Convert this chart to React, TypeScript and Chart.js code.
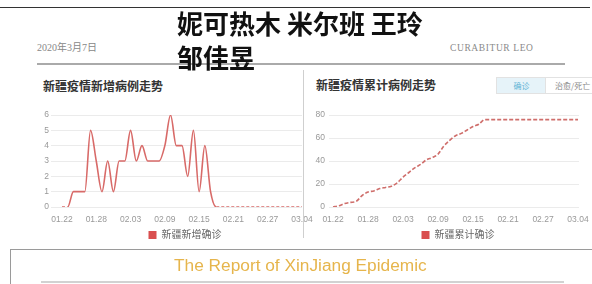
import React, { useEffect, useRef } from 'react';
import { Chart, registerables } from 'chart.js';

Chart.register(...registerables);

const X_LABELS = [
  '01.22', '01.23', '01.24', '01.25', '01.26', '01.27', '01.28', '01.29', '01.30', '01.31',
  '02.01', '02.02', '02.03', '02.04', '02.05', '02.06', '02.07', '02.08', '02.09', '02.10',
  '02.11', '02.12', '02.13', '02.14', '02.15', '02.16', '02.17', '02.18', '02.19', '02.20',
  '02.21', '02.22', '02.23', '02.24', '02.25', '02.26', '02.27', '02.28', '02.29', '03.01',
  '03.02', '03.03', '03.04',
];

const NEW_CASES = [
  0, 0, 1, 1, 1, 5, 3, 1, 3, 1,
  3, 3, 5, 3, 4, 3, 3, 3, 4, 6,
  4, 4, 2, 5, 1, 4, 1, 0, 0, 0,
  0, 0, 0, 0, 0, 0, 0, 0, 0, 0,
  0, 0, 0,
];

const TOTAL_CASES = [
  0, 1, 3, 4, 5, 10, 13, 14, 16, 17,
  18, 21, 26, 30, 34, 37, 41, 43, 46, 53,
  58, 62, 64, 67, 70, 72, 76, 76, 76, 76,
  76, 76, 76, 76, 76, 76, 76, 76, 76, 76,
  76, 76, 76,
];

const NEW_LABEL = '新疆新增确诊';
const TOTAL_LABEL = '新疆累计确诊';
const NEW_Y_MAX = 6;
const NEW_Y_STEP = 1;
const TOTAL_Y_MAX = 80;
const TOTAL_Y_STEP = 20;
const X_STEP = 6;

const LEGEND_COLOR = '#d94f4f';
const FONT_FAMILY = '"Liberation Sans", "Noto Sans CJK SC", sans-serif';

type Opts = {
  values: number[];
  label: string;
  yMax: number;
  yStep: number;
  xMin: number;
  xMax: number;
  yWidth: number;
  yPad: number;
  rightWidth: number;
  color: string;
  dashAll: boolean;
};

function makeConfig(o: Opts): any {
  return {
    type: 'line',
    data: {
      datasets: [
        {
          label: o.label,
          data: o.values.map((v, i) => ({ x: i, y: v })),
          borderColor: o.color,
          backgroundColor: LEGEND_COLOR,
          borderWidth: 1.6,
          pointRadius: 0,
          pointHoverRadius: 0,
          fill: false,
          cubicInterpolationMode: 'monotone',
          borderDash: o.dashAll ? [4, 2] : [],
          segment: o.dashAll
            ? undefined
            : {
                borderDash: (ctx: any) =>
                  ctx.p0.parsed.y === 0 && ctx.p1.parsed.y === 0 ? [3, 2] : undefined,
              },
        },
      ],
    },
    options: {
      animation: false,
      responsive: false,
      maintainAspectRatio: false,
      events: [],
      layout: { padding: { top: 15, left: 0, right: 0, bottom: 0 } },
      plugins: {
        tooltip: { enabled: false },
        title: { display: false },
        legend: {
          display: true,
          position: 'bottom',
          labels: {
            boxWidth: 8,
            boxHeight: 8,
            padding: 5,
            color: '#666',
            font: { size: 10, family: FONT_FAMILY },
            generateLabels: (chart: any) =>
              Chart.defaults.plugins.legend.labels
                .generateLabels(chart)
                .map((l: any) => ({
                  ...l,
                  fillStyle: LEGEND_COLOR,
                  strokeStyle: LEGEND_COLOR,
                  lineWidth: 0,
                  lineDash: [],
                })),
          },
        },
      },
      scales: {
        x: {
          type: 'linear',
          min: o.xMin,
          max: o.xMax,
          grid: { display: false, drawTicks: false },
          border: { display: false },
          ticks: {
            stepSize: X_STEP,
            includeBounds: false,
            autoSkip: false,
            maxRotation: 0,
            padding: 8,
            color: '#999',
            font: { size: 8.5, family: FONT_FAMILY },
            callback: (v: any) => X_LABELS[v] ?? '',
          },
          afterFit: (s: any) => {
            s.height = 18;
          },
        },
        y: {
          min: 0,
          max: o.yMax,
          grid: { color: '#ebebeb', drawTicks: false, lineWidth: 1 },
          border: { display: false },
          ticks: {
            stepSize: o.yStep,
            padding: o.yPad,
            color: '#999',
            font: { size: 8.5, family: FONT_FAMILY },
          },
          afterFit: (s: any) => {
            s.width = o.yWidth;
          },
        },
        y2: {
          position: 'right',
          display: true,
          grid: { display: false, drawTicks: false },
          border: { display: false },
          ticks: { display: false },
          afterFit: (s: any) => {
            s.width = o.rightWidth;
          },
        },
      },
    },
  };
}

const abs = (s: React.CSSProperties): React.CSSProperties => ({ position: 'absolute', ...s });

export default function App() {
  const leftRef = useRef<HTMLCanvasElement | null>(null);
  const rightRef = useRef<HTMLCanvasElement | null>(null);

  useEffect(() => {
    document.body.style.margin = '0';
    const left = new Chart(
      leftRef.current as HTMLCanvasElement,
      makeConfig({
        values: NEW_CASES,
        label: NEW_LABEL,
        yMax: NEW_Y_MAX,
        yStep: NEW_Y_STEP,
        xMin: -1.92,
        xMax: 42,
        yWidth: 21,
        yPad: 2,
        rightWidth: 38,
        color: '#d86a68',
        dashAll: false,
      })
    );
    const right = new Chart(
      rightRef.current as HTMLCanvasElement,
      makeConfig({
        values: TOTAL_CASES,
        label: TOTAL_LABEL,
        yMax: TOTAL_Y_MAX,
        yStep: TOTAL_Y_STEP,
        xMin: -0.69,
        xMax: 42.17,
        yWidth: 24,
        yPad: 4,
        rightWidth: 32,
        color: '#cf6e6b',
        dashAll: true,
      })
    );
    return () => {
      left.destroy();
      right.destroy();
    };
  }, []);

  return (
    <div
      style={{
        position: 'fixed',
        left: 0,
        top: 0,
        width: 592,
        height: 284,
        overflow: 'hidden',
        background: '#fff',
        fontFamily: '"Noto Sans CJK SC", "Liberation Sans", sans-serif',
      }}
    >
      <div style={abs({ left: 0, top: 7, width: 590, height: 1, background: '#333' })} />
      <div
        style={abs({
          left: 37,
          top: 42,
          fontFamily: '"Liberation Serif", "Noto Sans CJK SC", serif',
          fontSize: 10,
          lineHeight: '12px',
          color: '#888',
          whiteSpace: 'nowrap',
        })}
      >
        2020年3月7日
      </div>
      <div
        style={abs({
          left: 450,
          top: 42,
          fontFamily: '"Liberation Serif", serif',
          fontSize: 9.5,
          letterSpacing: 0.6,
          lineHeight: '12px',
          color: '#8a8a8a',
          whiteSpace: 'nowrap',
        })}
      >
        CURABITUR LEO
      </div>
      <div style={abs({ left: 37, top: 63, width: 528, height: 2, background: '#aaa' })} />
      <div
        style={abs({
          left: 177,
          top: 6,
          fontSize: 26,
          fontWeight: 700,
          lineHeight: '34px',
          color: '#111',
          whiteSpace: 'nowrap',
          zIndex: 3,
        })}
      >
        妮可热木 米尔班 王玲
        <br />
        邹佳昱
      </div>

      <div
        style={abs({
          left: 43,
          top: 80,
          fontSize: 12,
          fontWeight: 700,
          lineHeight: '12px',
          color: '#333',
          whiteSpace: 'nowrap',
        })}
      >
        新疆疫情新增病例走势
      </div>
      <div
        style={abs({
          left: 316,
          top: 79,
          fontSize: 12,
          fontWeight: 700,
          lineHeight: '12px',
          color: '#333',
          whiteSpace: 'nowrap',
        })}
      >
        新疆疫情累计病例走势
      </div>
      <div
        style={abs({
          left: 496,
          top: 77,
          width: 49,
          height: 15,
          border: '1px solid #e2e2e2',
          background: '#e6f3f9',
          color: '#63b4d6',
          fontSize: 8,
          lineHeight: '15px',
          textAlign: 'center',
          boxSizing: 'content-box',
        })}
      >
        确诊
      </div>
      <div
        style={abs({
          left: 545,
          top: 77,
          width: 60,
          height: 15,
          border: '1px solid #e2e2e2',
          background: '#fff',
          color: '#888',
          fontSize: 8,
          lineHeight: '15px',
          paddingLeft: 9,
          whiteSpace: 'nowrap',
        })}
      >
        治愈/死亡
      </div>

      <canvas
        ref={leftRef}
        width={310}
        height={150}
        style={abs({ left: 30, top: 100, width: 310, height: 150 })}
      />
      <canvas
        ref={rightRef}
        width={306}
        height={150}
        style={abs({ left: 305, top: 100, width: 306, height: 150 })}
      />
      <div style={abs({ left: 303, top: 70, width: 1, height: 168, background: '#cfcfcf', zIndex: 2 })} />

      <div
        style={abs({
          left: 10,
          top: 249,
          width: 620,
          height: 60,
          borderLeft: '1px solid #9a9a9a',
          borderTop: '1px solid #9a9a9a',
        })}
      />
      <div
        style={abs({
          left: 174,
          top: 255,
          fontFamily: '"Liberation Sans", sans-serif',
          fontSize: 17.3,
          lineHeight: '20px',
          color: '#e6b54c',
          whiteSpace: 'nowrap',
        })}
      >
        The Report of XinJiang Epidemic
      </div>
      <div style={abs({ left: 41, top: 281, width: 523, height: 2, background: '#d2d2d2' })} />
    </div>
  );
}
